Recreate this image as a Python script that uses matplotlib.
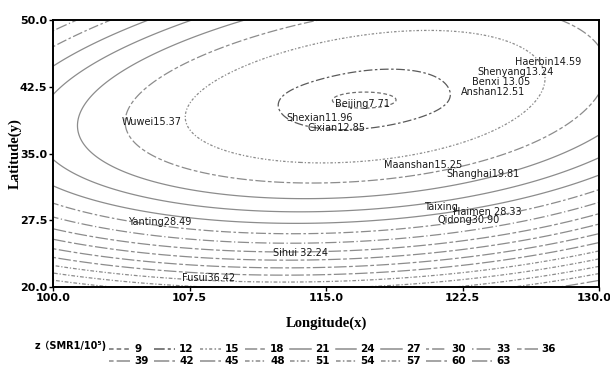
import numpy as np
import matplotlib
matplotlib.use('Agg')
import matplotlib.pyplot as plt
from matplotlib.lines import Line2D
from matplotlib.transforms import ScaledTranslation

# city labels: (name, lon, lat, SMR per 10^5)
city = ['Haerbin', 'Shenyang', 'Benxi ', 'Anshan', 'Beijing', 'Shexian',
        'Cixian', 'Wuwei', 'Maanshan', 'Shanghai', 'Taixing', 'Haimen ',
        'Qidong', 'Yanting', 'Sihui ', 'Fusui']
city_lon = [125.4, 123.3, 123.0, 122.4, 115.5, 112.8,
            114.0, 103.8, 118.2, 121.6, 120.4, 122.0,
            121.1, 104.1, 112.1, 107.1]
city_lat = [45.3, 44.2, 43.0, 41.9, 40.6, 39.0,
            37.9, 38.5, 33.7, 32.7, 29.0, 28.4,
            27.5, 27.3, 23.8, 21.0]
smr = [14.59, 13.24, 13.05, 12.51, 7.71, 11.96,
       12.85, 15.37, 15.25, 19.81, np.nan, 28.33,
       30.90, 28.49, 32.24, 36.42]

# contour levels of the fitted surface
levels = [9, 12, 15, 18, 21, 24, 27, 30, 33, 36,
          39, 42, 45, 48, 51, 54, 57, 60, 63]

# fitted response surface (centre, polynomial terms, local dip near Beijing)
lon0, lat0 = 117.1, 41.0
z0 = 11.2
a_uu, b_vv, c_uv = 0.0425, 0.076, -0.0328
h_uvv, e_vvv = -0.000705, -0.000686
dip, dip_su, dip_sv = 3.8, 2.5, 1.25

# line styles cycled like the original contour legend
styles = [(0, (3, 2)), (0, (7, 2, 2, 2)), (0, (2, 1.5, 1, 1.5)), (0, (8, 2, 3, 2)),
          '-', '-', '-', (0, (2, 2, 8, 2)), (0, (1, 2, 9, 2)), (0, (3, 2, 10, 2)),
          (0, (3, 2, 10, 2)), (0, (10, 2, 3, 2)), (0, (10, 2, 3, 2)),
          (0, (3, 1.5, 1, 1.5)), (0, (3, 1.5, 1, 1.5)), (0, (3, 1.5, 1, 1.5)),
          (0, (3, 1.5, 1, 1.5)), (0, (10, 2, 3, 2)), (0, (10, 2, 3, 2))]
colors = ['#6e6e6e', '#5a5a5a'] + ['#8c8c8c'] * 17

plt.rcParams['font.family'] = ['Liberation Sans Narrow', 'DejaVu Sans',
                               'Noto Sans CJK SC']

lon = np.linspace(100, 130, 301)
lat = np.linspace(20, 50, 301)
X, Y = np.meshgrid(lon, lat)
u = X - lon0
v = Y - lat0
Z = (z0 + a_uu * u**2 + b_vv * v**2 + c_uv * u * v + h_uvv * u * v**2
     + e_vvv * v**3
     - dip * np.exp(-((u / dip_su)**2 + (v / dip_sv)**2)))

fig = plt.figure(figsize=(6.1, 3.7), dpi=100)
ax = fig.add_axes([53 / 610, 1 - 287 / 370, 546 / 610, 267 / 370])

ax.contour(X, Y, Z, levels=levels, colors=colors, linestyles=styles,
           linewidths=0.9)

for name, x, y, val in zip(city, city_lon, city_lat, smr):
    label = name if np.isnan(val) else name + '%.2f' % val
    ax.text(x, y, label, fontsize=7, color='#1a1a1a', ha='left', va='center')

ax.set_xlim(100, 130)
ax.set_ylim(20, 50)
ax.set_xticks([100, 107.5, 115, 122.5, 130])
ax.set_yticks([20, 27.5, 35, 42.5, 50])
ax.set_xticklabels(['100.0', '107.5', '115.0', '122.5', '130.0'],
                   fontweight='bold', fontsize=8)
ax.set_yticklabels(['20.0', '27.5', '35.0', '42.5', '50.0'],
                   fontweight='bold', fontsize=8)
ax.tick_params(length=3, width=1, pad=1)
last = ax.get_xticklabels()[-1]
last.set_transform(last.get_transform()
                   + ScaledTranslation(-0.05, 0, fig.dpi_scale_trans))
for s in ax.spines.values():
    s.set_linewidth(1.4)

ax.set_xlabel('Longitude(x)', family='Liberation Serif', fontweight='bold',
              fontsize=10.5, labelpad=10)
ax.set_ylabel('Latitude(y)', family='Liberation Serif', fontweight='bold',
              fontsize=10.5)
ax.yaxis.set_label_coords(-0.058, 0.5)

# legend: first row 9..36, second row 39..63 (reordered for column filling)
handles = [Line2D([], [], color=c, linestyle=s, lw=1.1)
           for c, s in zip(colors, styles)]
labels = [str(l) for l in levels]
order = []
for i in range(9):
    order += [i, i + 10]
order.append(9)
fig.legend([handles[i] for i in order], [labels[i] for i in order],
           ncol=10, loc='upper left', bbox_to_anchor=(104 / 610, 1 - 339 / 370),
           frameon=False, handlelength=2.0, handletextpad=0.4,
           columnspacing=0.55, labelspacing=0.2, borderpad=0,
           prop={'weight': 'bold', 'size': 7.5})
fig.text(35 / 610, 1 - 346 / 370, 'z（SMR1/10⁵)', fontsize=7, fontweight='bold',
         va='center', ha='left')

fig.savefig('out.png', dpi=100)
